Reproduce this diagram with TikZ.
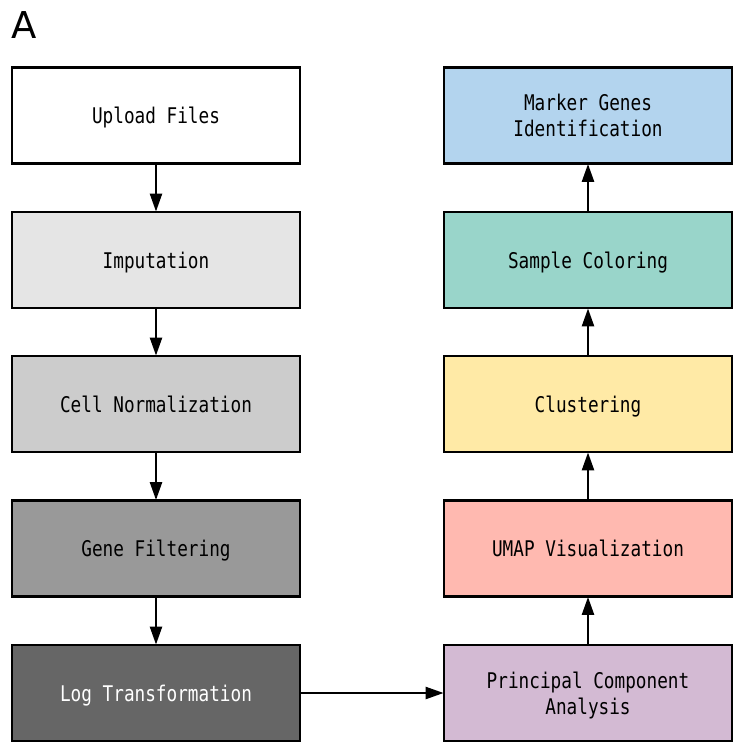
\documentclass[tikz,border=0pt]{standalone}
\usepackage{fontspec}
\setmonofont[FakeStretch=0.82]{DejaVu Sans Mono}
\newfontfamily\labelfont{DejaVu Sans}
\usetikzlibrary{arrows.meta}
\definecolor{cImp}{HTML}{E5E5E5}
\definecolor{cNorm}{HTML}{CCCCCC}
\definecolor{cGene}{HTML}{999999}
\definecolor{cLog}{HTML}{666666}
\definecolor{cMark}{HTML}{B3D4EE}
\definecolor{cSamp}{HTML}{99D5CA}
\definecolor{cClus}{HTML}{FFEAA6}
\definecolor{cUmap}{HTML}{FFB9B0}
\definecolor{cPca}{HTML}{D3BAD3}
\tikzset{
  stepbox/.style={draw=black, line width=2.8pt, minimum width=288pt, minimum height=96pt,
    inner sep=0pt, align=center, text depth=0pt, font=\ttfamily\fontsize{21.6}{26}\selectfont, text=black},
  flow/.style={line width=2.4pt, -{Triangle[length=18pt,width=12pt]}, shorten >=-1pt}
}
\begin{document}
\begin{tikzpicture}[x=1pt,y=-1pt]
\useasboundingbox (0,0) rectangle (733,744);
\node[anchor=base west, font=\labelfont\fontsize{37}{40}\selectfont, inner sep=0pt] (lab) at (11,38.5) {A};
\node[stepbox, fill=white] (up) at (156,115.5) {Upload Files};
\node[stepbox, fill=cImp] (imp) at (156,260) {Imputation};
\node[stepbox, fill=cNorm] (norm) at (156,404) {Cell Normalization};
\node[stepbox, fill=cGene] (gene) at (156,548.5) {Gene Filtering};
\node[stepbox, fill=cLog, text=white] (log) at (156,693) {Log Transformation};
\node[stepbox, fill=cMark] (mark) at (588,115.5) {Marker Genes\\Identification};
\node[stepbox, fill=cSamp] (samp) at (588,260) {Sample Coloring};
\node[stepbox, fill=cClus] (clus) at (588,404) {Clustering};
\node[stepbox, fill=cUmap] (umap) at (588,548.5) {UMAP Visualization};
\node[stepbox, fill=cPca] (pca) at (588,693) {Principal Component\\Analysis};
\draw[flow] (up) -- (imp);
\draw[flow] (imp) -- (norm);
\draw[flow] (norm) -- (gene);
\draw[flow] (gene) -- (log);
\draw[flow] (log) -- (pca);
\draw[flow] (pca) -- (umap);
\draw[flow] (umap) -- (clus);
\draw[flow] (clus) -- (samp);
\draw[flow] (samp) -- (mark);
\end{tikzpicture}
\end{document}
